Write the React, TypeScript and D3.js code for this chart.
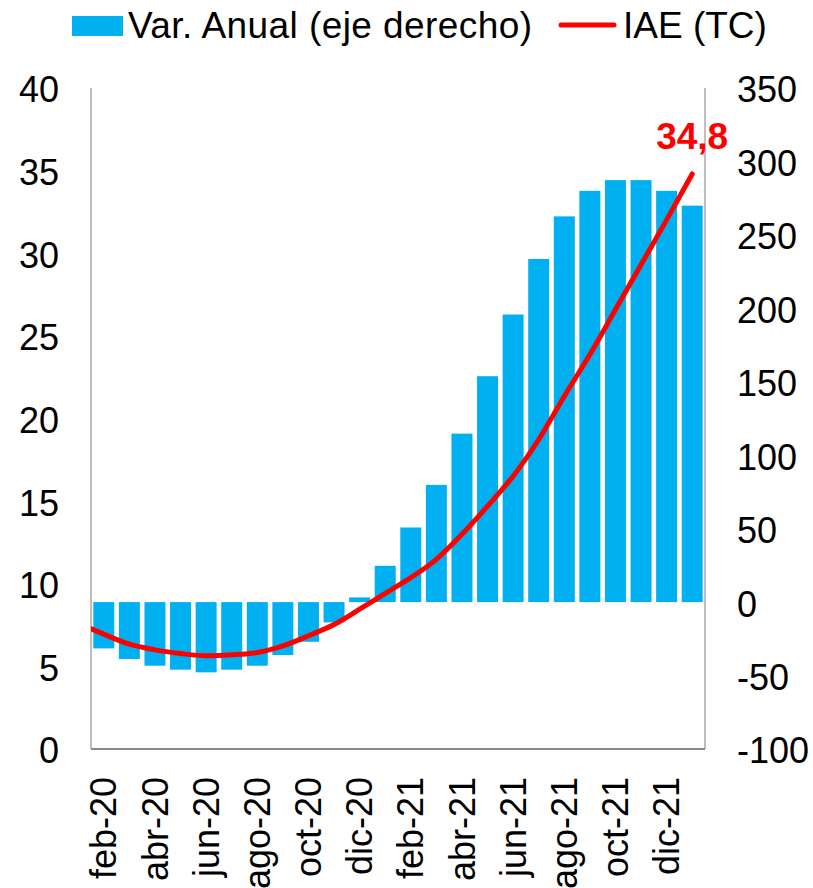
import React, { useRef, useEffect } from "react";
import * as d3 from "d3";

// categories (monthly, feb-20 .. ene-22)
const months = [
  "feb-20", "mar-20", "abr-20", "may-20", "jun-20", "jul-20", "ago-20", "sep-20",
  "oct-20", "nov-20", "dic-20", "ene-21", "feb-21", "mar-21", "abr-21", "may-21",
  "jun-21", "jul-21", "ago-21", "sep-21", "oct-21", "nov-21", "dic-21", "ene-22",
];
// Var. Anual (eje derecho)
const varAnual = [
  -31.5, -38.7, -43.3, -46, -47.8, -46, -43.3, -36, -27, -13.8, 3.2, 24.7,
  50.8, 79.8, 114.7, 153.8, 195.8, 233.6, 262.6, 280, 287.3, 287.3, 280, 269.9,
];
// IAE (TC), left axis
const iae = [
  6.95, 6.34, 6.0, 5.78, 5.64, 5.7, 5.84, 6.24, 6.85, 7.53, 8.46, 9.42,
  10.37, 11.48, 12.99, 14.7, 16.51, 18.73, 21.35, 23.87, 26.59, 29.31, 32.02, 34.8,
];
// ene-20 value, only partly visible at the left edge
const iaePrev = 7.6;

const leftTicks = [0, 5, 10, 15, 20, 25, 30, 35, 40];
const rightTicks = [-100, -50, 0, 50, 100, 150, 200, 250, 300, 350];
const shownLabels = ["feb-20", "abr-20", "jun-20", "ago-20", "oct-20", "dic-20",
  "feb-21", "abr-21", "jun-21", "ago-21", "oct-21", "dic-21"];

const App = () => {
  const svgRef = useRef<SVGSVGElement>(null);

  useEffect(() => {
    const W = 813, H = 888;
    const left = 91, right = 705, top = 88, bottom = 749;
    const font = "Arial, 'Liberation Sans', sans-serif";
    const blue = "#00b0f0";
    const red = "#ff0000";

    const svg = d3.select(svgRef.current).attr("width", W).attr("height", H);
    svg.selectAll("*").remove();

    const x = d3.scaleBand().domain(months).range([left, right]).paddingInner(0.18).paddingOuter(0.09);
    const yL = d3.scaleLinear().domain([0, 40]).range([bottom, top]);
    const yR = d3.scaleLinear().domain([-100, 350]).range([bottom, top]);
    const step = x.step();
    const cx = (m: string) => (x(m) as number) + x.bandwidth() / 2;

    svg.append("defs").append("clipPath").attr("id", "plot")
      .append("rect").attr("x", left).attr("y", top - 20).attr("width", right - left + 20).attr("height", bottom - top + 20);

    // bars
    svg.append("g").selectAll("rect").data(months).enter().append("rect")
      .attr("x", (d) => x(d) as number)
      .attr("width", x.bandwidth())
      .attr("y", (d, i) => Math.min(yR(varAnual[i]), yR(0)))
      .attr("height", (d, i) => Math.abs(yR(varAnual[i]) - yR(0)))
      .attr("fill", blue);

    // axes lines
    svg.append("line").attr("x1", left).attr("x2", left).attr("y1", top).attr("y2", bottom)
      .attr("stroke", "#bfbfbf").attr("stroke-width", 2);
    svg.append("line").attr("x1", right).attr("x2", right).attr("y1", top).attr("y2", bottom)
      .attr("stroke", "#bfbfbf").attr("stroke-width", 2);
    svg.append("line").attr("x1", left).attr("x2", right).attr("y1", bottom).attr("y2", bottom)
      .attr("stroke", "#898989").attr("stroke-width", 2);

    // line
    const pts: [number, number][] = [[cx(months[0]) - step, yL(iaePrev)]]
      .concat(months.map((m, i) => [cx(m), yL(iae[i])] as [number, number])) as [number, number][];
    const line = d3.line().curve(d3.curveMonotoneX);
    svg.append("path").attr("d", line(pts)).attr("fill", "none")
      .attr("stroke", red).attr("stroke-width", 5).attr("stroke-linecap", "round")
      .attr("clip-path", "url(#plot)");

    // last value label
    const last = months.length - 1;
    svg.append("text").attr("x", cx(months[last])).attr("y", yL(iae[last]) - 25)
      .attr("text-anchor", "middle").attr("font-family", font).attr("font-size", 37)
      .attr("font-weight", "bold").attr("fill", red)
      .text(d3.format(".1f")(iae[last]).replace(".", ","));

    // left ticks
    svg.append("g").selectAll("text").data(leftTicks).enter().append("text")
      .attr("x", 59).attr("y", (d) => yL(d)).attr("dy", "0.4em")
      .attr("text-anchor", "end").attr("font-family", font).attr("font-size", 36)
      .text((d) => d);

    // right ticks
    svg.append("g").selectAll("text").data(rightTicks).enter().append("text")
      .attr("x", 737).attr("y", (d) => yR(d)).attr("dy", "0.4em")
      .attr("text-anchor", "start").attr("font-family", font).attr("font-size", 36)
      .text((d) => d);

    // x labels
    svg.append("g").selectAll("text").data(shownLabels).enter().append("text")
      .attr("transform", (d) => `translate(${cx(d)}, 777) rotate(-90)`)
      .attr("dy", "0.35em")
      .attr("text-anchor", "end").attr("font-family", font).attr("font-size", 36)
      .text((d) => d);

    // legend
    const lg = svg.append("g").attr("font-family", font).attr("font-size", 37);
    lg.append("rect").attr("x", 72).attr("y", 16).attr("width", 51).attr("height", 20).attr("fill", blue);
    lg.append("text").attr("x", 128).attr("y", 38).attr("textLength", 404).text("Var. Anual (eje derecho)");
    lg.append("line").attr("x1", 561).attr("x2", 614).attr("y1", 25).attr("y2", 25)
      .attr("stroke", red).attr("stroke-width", 5).attr("stroke-linecap", "round");
    lg.append("text").attr("x", 623).attr("y", 38).text("IAE (TC)");
  }, []);

  return (
    <div>
      <svg ref={svgRef} style={{ position: "absolute", left: 0, top: 0, display: "block" }}></svg>
    </div>
  );
};

export default App;
